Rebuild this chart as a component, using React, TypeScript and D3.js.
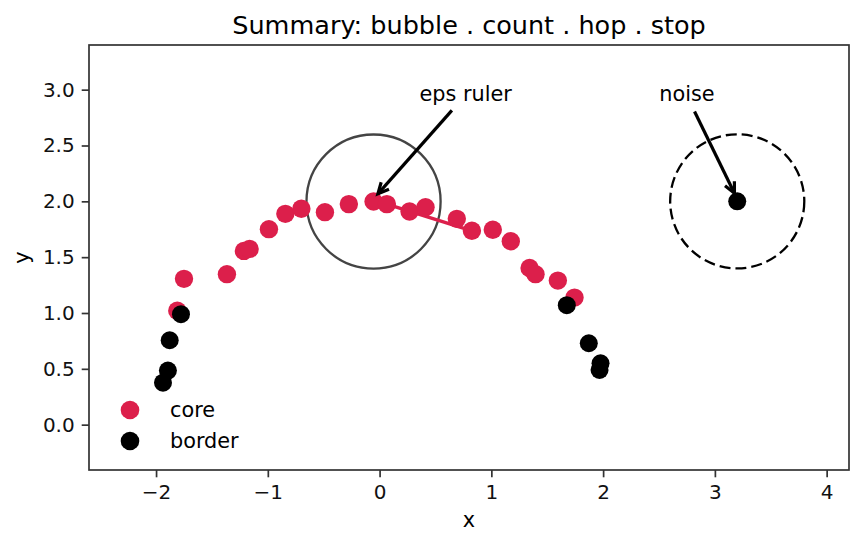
import React, { useEffect, useRef } from 'react';
import * as d3 from 'd3';

const W = 862;
const H = 545;
const margin = { top: 45, right: 13, bottom: 75, left: 89 };

// core points (red)
const coreX = [-1.81, -1.75, -1.366, -1.214, -1.163, -0.99, -0.843, -0.7, -0.489, -0.275, -0.054, 0.065, 0.268, 0.411, 0.691, 0.826, 1.013, 1.174, 1.342, 1.395, 1.595, 1.744];
const coreY = [1.021, 1.306, 1.348, 1.556, 1.574, 1.751, 1.888, 1.933, 1.903, 1.975, 1.998, 1.975, 1.909, 1.948, 1.843, 1.736, 1.745, 1.643, 1.404, 1.348, 1.29, 1.138];

// border points (black)
const borderX = [-1.777, -1.878, -1.894, -1.938, 1.675, 1.872, 1.977, 1.968];
const borderY = [0.989, 0.756, 0.484, 0.376, 1.07, 0.729, 0.55, 0.49];

// noise point
const noisePt: [number, number] = [3.2, 2.0];

// hop: index pair in the core list
const hop = [11, 15];
const eps = 0.6;

const xTicks = [-2, -1, 0, 1, 2, 3, 4];
const yTicks = [0, 0.5, 1, 1.5, 2, 2.5, 3];
const xDomain: [number, number] = [-2.6, 4.2];
const yDomain: [number, number] = [-0.406, 3.4];

const title = 'Summary: bubble . count . hop . stop';
const legendLabels = ['core', 'border'];

// annotation text position, arrow tail and head (data units)
const epsNote = { text: 'eps ruler', at: [0.77, 2.9], tail: [0.647, 2.814], head: [-0.015, 2.067] };
const noiseNote = { text: 'noise', at: [2.75, 2.9], tail: [2.818, 2.805], head: [3.175, 2.073] };

const RED = '#dc1f4b';
const FONT = '"DejaVu Sans", sans-serif';

const App: React.FC = () => {
  const svgRef = useRef<SVGSVGElement | null>(null);

  useEffect(() => {
    const svg = d3.select(svgRef.current);
    svg.selectAll('*').remove();

    const x = d3.scaleLinear().domain(xDomain).range([margin.left, W - margin.right]);
    const y = d3.scaleLinear().domain(yDomain).range([H - margin.bottom, margin.top]);
    const pxPerUnit = x(1) - x(0);

    svg.append('rect').attr('width', W).attr('height', H).attr('fill', '#fff');

    const plot = svg.append('g');

    // eps ruler circle
    plot.append('circle')
      .attr('cx', x(coreX[10]))
      .attr('cy', y(coreY[10]))
      .attr('r', eps * pxPerUnit)
      .attr('fill', 'none')
      .attr('stroke', '#444')
      .attr('stroke-width', 2.3);

    // noise circle
    plot.append('circle')
      .attr('cx', x(noisePt[0]))
      .attr('cy', y(noisePt[1]))
      .attr('r', eps * pxPerUnit)
      .attr('fill', 'none')
      .attr('stroke', '#000')
      .attr('stroke-width', 2.3)
      .attr('stroke-dasharray', '11,5');

    // hop line
    plot.append('line')
      .attr('x1', x(coreX[hop[0]]))
      .attr('y1', y(coreY[hop[0]]))
      .attr('x2', x(coreX[hop[1]]))
      .attr('y2', y(coreY[hop[1]]))
      .attr('stroke', RED)
      .attr('stroke-width', 3.5);

    const core = coreX.map((v, i) => [v, coreY[i]]);
    const border = borderX.map((v, i) => [v, borderY[i]]);

    plot.selectAll('circle.core')
      .data(core)
      .enter()
      .append('circle')
      .attr('class', 'core')
      .attr('cx', (d) => x(d[0]))
      .attr('cy', (d) => y(d[1]))
      .attr('r', 9.2)
      .attr('fill', RED);

    plot.selectAll('circle.border')
      .data(border)
      .enter()
      .append('circle')
      .attr('class', 'border')
      .attr('cx', (d) => x(d[0]))
      .attr('cy', (d) => y(d[1]))
      .attr('r', 9)
      .attr('fill', '#000');

    plot.append('circle')
      .attr('cx', x(noisePt[0]))
      .attr('cy', y(noisePt[1]))
      .attr('r', 9)
      .attr('fill', '#000');

    // annotations
    [epsNote, noiseNote].forEach((n) => {
      plot.append('text')
        .attr('x', x(n.at[0]))
        .attr('y', y(n.at[1]))
        .attr('text-anchor', 'middle')
        .attr('font-family', FONT)
        .attr('font-size', 20.8)
        .attr('fill', '#000')
        .text(n.text);
      const hx = x(n.head[0]);
      const hy = y(n.head[1]);
      const tx = x(n.tail[0]);
      const ty = y(n.tail[1]);
      plot.append('line')
        .attr('x1', tx).attr('y1', ty).attr('x2', hx).attr('y2', hy)
        .attr('stroke', '#000').attr('stroke-width', 3.2);
      const ang = Math.atan2(ty - hy, tx - hx);
      const len = 12;
      const spread = 0.45;
      const p = [
        [hx + len * Math.cos(ang + spread), hy + len * Math.sin(ang + spread)],
        [hx, hy],
        [hx + len * Math.cos(ang - spread), hy + len * Math.sin(ang - spread)],
      ];
      plot.append('path')
        .attr('d', d3.line()(p as [number, number][]))
        .attr('fill', 'none')
        .attr('stroke', '#000')
        .attr('stroke-width', 3.2)
        .attr('stroke-linejoin', 'miter');
    });

    // axes frame
    svg.append('rect')
      .attr('x', margin.left)
      .attr('y', margin.top)
      .attr('width', W - margin.left - margin.right)
      .attr('height', H - margin.top - margin.bottom)
      .attr('fill', 'none')
      .attr('stroke', '#333')
      .attr('stroke-width', 1.7);

    const xAxis = svg.append('g')
      .attr('transform', `translate(0,${H - margin.bottom})`)
      .call(d3.axisBottom(x).tickValues(xTicks).tickSize(7.3).tickPadding(7).tickFormat(d3.format('d')));
    const yAxis = svg.append('g')
      .attr('transform', `translate(${margin.left},0)`)
      .call(d3.axisLeft(y).tickValues(yTicks).tickSize(7.3).tickPadding(7).tickFormat(d3.format('.1f')));

    [xAxis, yAxis].forEach((a) => {
      a.select('.domain').remove();
      a.selectAll('line').attr('stroke', '#333').attr('stroke-width', 1.7);
      a.selectAll('text')
        .attr('font-family', FONT)
        .attr('font-size', 20)
        .attr('fill', '#111');
    });

    // labels
    svg.append('text')
      .attr('x', (margin.left + W - margin.right) / 2)
      .attr('y', 34)
      .attr('text-anchor', 'middle')
      .attr('font-family', FONT)
      .attr('font-size', 25.5)
      .attr('fill', '#000')
      .text(title);

    svg.append('text')
      .attr('x', (margin.left + W - margin.right) / 2)
      .attr('y', 527)
      .attr('text-anchor', 'middle')
      .attr('font-family', FONT)
      .attr('font-size', 20.8)
      .attr('fill', '#000')
      .text('x');

    svg.append('text')
      .attr('transform', `translate(29,${(margin.top + H - margin.bottom) / 2}) rotate(-90)`)
      .attr('text-anchor', 'middle')
      .attr('font-family', FONT)
      .attr('font-size', 20.8)
      .attr('fill', '#000')
      .text('y');

    // legend
    const legend = svg.append('g');
    const colors = [RED, '#000'];
    legendLabels.forEach((lab, i) => {
      const ly = 410 + i * 31;
      legend.append('circle').attr('cx', 130).attr('cy', ly).attr('r', 9.3).attr('fill', colors[i]);
      legend.append('text')
        .attr('x', 170)
        .attr('y', ly)
        .attr('dy', '0.35em')
        .attr('font-family', FONT)
        .attr('font-size', 20.8)
        .attr('fill', '#000')
        .text(lab);
    });
  }, []);

  return (
    <svg
      ref={svgRef}
      width={W}
      height={H}
      style={{ position: 'absolute', left: 0, top: 0 }}
      aria-label="DBSCAN summary scatter"
    />
  );
};

export default App;
